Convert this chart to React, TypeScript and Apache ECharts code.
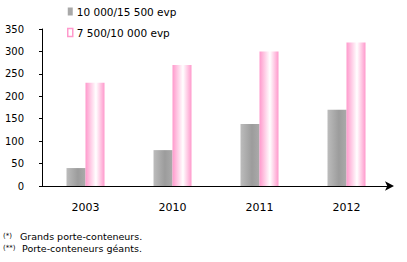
import React, { useEffect, useRef } from "react";
import * as echarts from "echarts";

const categories = ["2003", "2010", "2011", "2012"];
const seriesNames = ["10 000/15 500 evp", "7 500/10 000 evp"];
const greyValues = [40, 80, 138, 170];
const pinkValues = [230, 270, 300, 320];
const footnotes = ["(*)", "Grands porte-conteneurs.", "(**)", "Porte-conteneurs géants."];

const FONT = "'DejaVu Sans', sans-serif";

export default function App() {
  const ref = useRef<HTMLDivElement>(null);
  useEffect(() => {
    if (!ref.current) return;
    const chart = echarts.init(ref.current, null, { renderer: "svg" });
    const grey = new echarts.graphic.LinearGradient(0, 0, 1, 0, [
      { offset: 0, color: "#bcbcbc" },
      { offset: 0.6, color: "#9c9c9c" },
      { offset: 1, color: "#aaaaaa" },
    ]);
    const pink = new echarts.graphic.LinearGradient(0, 0, 1, 0, [
      { offset: 0, color: "#ff99cc" },
      { offset: 0.55, color: "#ffffff" },
      { offset: 1, color: "#ff99cc" },
    ]);
    chart.setOption({
      animation: false,
      textStyle: { fontFamily: FONT },
      grid: { left: 42, right: 17, top: 29, bottom: 76, containLabel: false },
      legend: {
        orient: "vertical",
        left: 62,
        top: 1,
        itemGap: 10,
        itemWidth: 5,
        itemHeight: 8,
        icon: "rect",
        textStyle: { fontFamily: FONT, fontSize: 10.5, color: "#000", padding: [0, 0, 0, -1] },
        data: [
          { name: seriesNames[0], itemStyle: { color: "#a8a8a8" } },
          {
            name: seriesNames[1],
            itemStyle: { color: "#ffffff", borderColor: "#ff99cc", borderWidth: 1.5 },
          },
        ],
      },
      xAxis: {
        type: "category",
        data: categories,
        axisLine: {
          lineStyle: { color: "#000", width: 1 },
          symbol: ["none", "arrow"],
          symbolSize: [7, 9],
          symbolOffset: [0, 4],
        },
        axisTick: { show: false },
        axisLabel: { color: "#000", fontSize: 11, margin: 16, fontFamily: FONT },
      },
      yAxis: {
        type: "value",
        min: 0,
        max: 350,
        interval: 50,
        splitLine: { show: false },
        axisLine: { show: true, lineStyle: { color: "#000", width: 1 } },
        axisTick: { show: true, length: 3, lineStyle: { color: "#000" } },
        axisLabel: { color: "#000", fontSize: 10, margin: 18, fontFamily: FONT },
      },
      series: [
        {
          name: seriesNames[0],
          type: "bar",
          data: greyValues,
          barWidth: 19,
          barGap: "0%",
          itemStyle: { color: grey },
        },
        {
          name: seriesNames[1],
          type: "bar",
          data: pinkValues,
          barWidth: 19,
          barGap: "0%",
          itemStyle: { color: pink },
        },
      ],
      graphic: [
        { type: "text", left: 3, top: 232, style: { text: footnotes[0], fontSize: 7, fill: "#000", fontFamily: FONT } },
        { type: "text", left: 20, top: 231, style: { text: footnotes[1], fontSize: 9.5, fill: "#000", fontFamily: FONT } },
        { type: "text", left: 3, top: 244, style: { text: footnotes[2], fontSize: 7, fill: "#000", fontFamily: FONT } },
        { type: "text", left: 22, top: 243, style: { text: footnotes[3], fontSize: 9.5, fill: "#000", fontFamily: FONT } },
      ],
    });
    return () => chart.dispose();
  }, []);
  return <div ref={ref} style={{ width: 407, height: 262, position: "absolute", left: 0, top: 0 }} />;
}
